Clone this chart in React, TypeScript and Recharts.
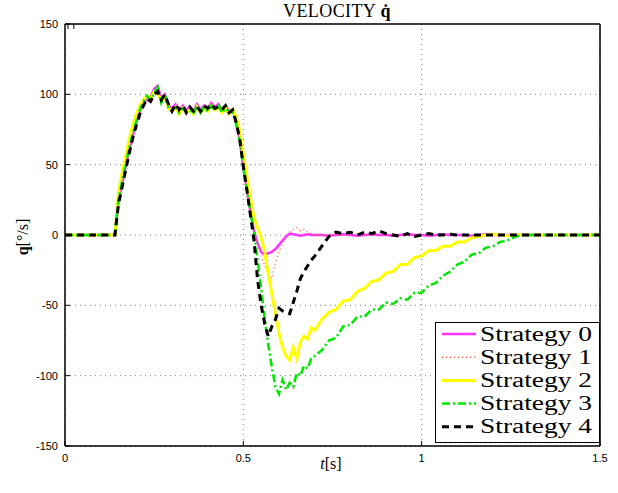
import React from 'react';
import {
  LineChart,
  Line,
  XAxis,
  YAxis,
  CartesianGrid,
  Legend,
  ReferenceArea
} from 'recharts';

// time samples [s]
const time = [
  0,
  0.14, 0.15, 0.16, 0.17, 0.18, 0.19, 0.2, 0.21, 0.22, 0.23,
  0.24, 0.25, 0.26, 0.27, 0.28, 0.29, 0.3, 0.31, 0.32, 0.33,
  0.34, 0.35, 0.36, 0.37, 0.38, 0.39, 0.4, 0.41, 0.42, 0.43,
  0.44, 0.45, 0.46, 0.47,
  0.48, 0.49, 0.5, 0.51, 0.52, 0.53, 0.54, 0.55, 0.56, 0.57,
  0.58, 0.59, 0.6, 0.61, 0.62, 0.63, 0.64, 0.65, 0.66, 0.67,
  0.68, 0.69, 0.7,
  0.72, 0.74, 0.76, 0.78, 0.8, 0.82, 0.84, 0.86, 0.88, 0.9,
  0.92, 0.94, 0.96, 0.98, 1.0, 1.02, 1.04, 1.06, 1.08, 1.1,
  1.12, 1.14, 1.16, 1.18, 1.2, 1.22, 1.24, 1.26, 1.28, 1.3,
  1.35, 1.4, 1.45, 1.5
];

// velocity [deg/s] per strategy
const strategy0 = [
  0,
  0, 24, 36, 48, 60, 70, 80, 88, 93, 97,
  98, 104, 106, 97, 100, 92, 90, 93, 88, 92,
  89, 91, 88, 93, 89, 92, 90, 94, 91, 93,
  89, 92, 88, 89,
  80, 68, 48, 32, 16, 3, -6, -12, -14, -13,
  -12, -10, -7, -4, -1, 1, 0.5, 0, -0.5, 0,
  0.5, 0, 0,
  0, -0.5, 0, 0.5, 0, -0.5, 0, 0.5, 0, 0,
  -0.5, 0, 0.5, 0, 0, -0.5, 0, 0.5, 0, 0,
  0, -0.5, 0, 0.5, 0, 0, 0, 0, 0, 0,
  0, 0, 0, 0
];

const strategy1 = [
  0,
  0, 25, 37, 49, 61, 71, 80, 88, 94, 98,
  97, 102, 104, 96, 99, 91, 88, 92, 86, 91,
  87, 90, 87, 92, 88, 91, 89, 93, 90, 92,
  88, 91, 87, 88,
  79, 67, 47, 31, 15, 3, -6, -14, -22, -28,
  -31, -20, -12, -6, -1, 2, 4, 5, 3, 4,
  2, 1, 0,
  0, 0.5, 0, -0.5, 0, 0.5, 0, 0, -0.5, 0,
  0.5, 0, 0, 0, -0.5, 0, 0.5, 0, 0, 0,
  0, 0, 0, 0, 0, 0, 0, 0, 0, 0,
  0, 0, 0, 0
];

const strategy2 = [
  0,
  0, 30, 44, 56, 68, 78, 86, 92, 96, 99,
  97, 102, 100, 96, 98, 90, 88, 91, 86, 90,
  87, 89, 86, 91, 87, 90, 88, 92, 89, 91,
  87, 90, 86, 89,
  84, 74, 58, 42, 26, 12, 5, -2, -12, -28,
  -42, -56, -70, -80, -86, -89, -80, -88, -76, -72,
  -74, -66, -68,
  -60, -55, -53, -47, -46, -40, -38, -33, -32, -27,
  -26, -21, -21, -16, -15, -11, -11, -8, -8, -5,
  -5, -2, -1, 0, 0.5, 0, -0.5, 0, 0, 0,
  0, 0, 0, 0
];

const strategy3 = [
  0,
  0, 25, 38, 50, 62, 72, 81, 89, 95, 99,
  96, 101, 105, 94, 100, 90, 89, 91, 87, 90,
  88, 89, 86, 92, 87, 91, 88, 92, 89, 93,
  87, 90, 88, 87,
  79, 67, 48, 32, 16, 2, -18, -38, -60, -78,
  -94, -108, -113, -103, -110, -105, -108, -98, -100, -93,
  -95, -88, -86,
  -82, -75, -73, -65, -64, -58, -58, -53, -53, -48,
  -49, -45, -46, -41, -41, -36, -34, -29, -26, -21,
  -19, -14, -13, -9, -8, -5, -4, -1.5, 0, 0,
  0, 0, 0, 0
];

const strategy4 = [
  0,
  0, 22, 34, 46, 58, 69, 78, 86, 92, 97,
  95, 100, 102, 96, 100, 93, 88, 93, 89, 92,
  87, 91, 88, 91, 88, 92, 90, 93, 90, 91,
  89, 92, 87, 89,
  80, 68, 49, 32, 14, -4, -32, -50, -63, -72,
  -65, -60, -52, -54, -55, -56, -48, -40, -31, -26,
  -22, -18, -15,
  -8, -1, 2, 1, 2, 0, 2, 1, 3, 1,
  0, -1, 1, -1, 0, 1, 0, 0, 0.5, 0,
  0, 0, 0, 0, 0, 0, 0, 0, 0, 0,
  0, 0, 0, 0
];

const xTicks = [0, 0.5, 1, 1.5];
const yTicks = [-150, -100, -50, 0, 50, 100, 150];

const seriesStyle = [
  { key: 's0', name: 'Strategy 0', color: '#ff33ff', width: 2.5, dash: undefined },
  { key: 's1', name: 'Strategy 1', color: '#ff6a4a', width: 1.5, dash: '1 3' },
  { key: 's2', name: 'Strategy 2', color: '#ffff00', width: 3, dash: undefined },
  { key: 's3', name: 'Strategy 3', color: '#00e600', width: 2.5, dash: '8 3 2 3' },
  { key: 's4', name: 'Strategy 4', color: '#000000', width: 3, dash: '7 5' }
];

const data = time.map((t, i) => ({
  t,
  s0: strategy0[i],
  s1: strategy1[i],
  s2: strategy2[i],
  s3: strategy3[i],
  s4: strategy4[i]
}));

const serif = "'Liberation Serif', 'Times New Roman', serif";
const tickFont = { fontSize: 11, fontFamily: "'Liberation Sans', Arial, sans-serif", fill: '#000' };

function LegendBox() {
  return (
    <svg width={165} height={121} style={{ display: 'block' }}>
      <rect x={0.5} y={0.5} width={164} height={120} fill="#fff" stroke="#000" strokeWidth={1} />
      {seriesStyle.map((s, i) => {
        const y = 12 + i * 23.2;
        return (
          <g key={s.key}>
            <line
              x1={7}
              x2={41}
              y1={y}
              y2={y}
              stroke={s.color}
              strokeWidth={s.width}
              strokeDasharray={s.dash}
            />
            <text
              x={45}
              y={y + 6.5}
              style={{ fontFamily: serif, fontSize: 20 }}
              textLength={112}
              lengthAdjust="spacingAndGlyphs"
              fill="#000"
            >
              {s.name}
            </text>
          </g>
        );
      })}
    </svg>
  );
}

export default function App() {
  return (
    <div style={{ position: 'absolute', left: 0, top: 0, width: 618, height: 493, background: '#fff' }}>
      <LineChart
        width={618}
        height={493}
        data={data}
        margin={{ top: 23, right: 17, bottom: 22, left: 25 }}
      >
        <CartesianGrid stroke="#777" strokeDasharray="1 4" />
        <XAxis
          dataKey="t"
          type="number"
          domain={[0, 1.5]}
          ticks={xTicks}
          height={25}
          tickSize={-5}
          tickMargin={13}
          tick={tickFont}
          axisLine={{ stroke: '#000' }}
          tickLine={{ stroke: '#000' }}
          allowDataOverflow
        />
        <XAxis
          xAxisId="top"
          orientation="top"
          type="number"
          domain={[0, 1.5]}
          ticks={xTicks}
          height={1}
          tickSize={-5}
          tickFormatter={() => ''}
          axisLine={{ stroke: '#000' }}
          tickLine={{ stroke: '#000' }}
        />
        <YAxis
          type="number"
          domain={[-150, 150]}
          ticks={yTicks}
          width={40}
          tickSize={-5}
          tickMargin={12}
          tick={tickFont}
          axisLine={{ stroke: '#000' }}
          tickLine={{ stroke: '#000' }}
          allowDataOverflow
        />
        <YAxis
          yAxisId="right"
          orientation="right"
          type="number"
          domain={[-150, 150]}
          ticks={yTicks}
          width={1}
          tickSize={-5}
          tickFormatter={() => ''}
          axisLine={{ stroke: '#000' }}
          tickLine={{ stroke: '#000' }}
        />
        <ReferenceArea
          x1={0}
          x2={1.5}
          y1={-150}
          y2={150}
          fill="none"
          stroke="#000"
          strokeWidth={1}
          ifOverflow="visible"
        />
        {seriesStyle.map(s => (
          <Line
            key={s.key}
            dataKey={s.key}
            name={s.name}
            type="linear"
            stroke={s.color}
            strokeWidth={s.width}
            strokeDasharray={s.dash}
            dot={false}
            isAnimationActive={false}
          />
        ))}
        <Legend
          layout="vertical"
          align="center"
          verticalAlign="middle"
          wrapperStyle={{ left: 435, top: 322, width: 165, height: 121 }}
          content={() => <LegendBox />}
        />
      </LineChart>
      <div
        style={{
          position: 'absolute',
          left: 237,
          top: 1,
          width: 200,
          textAlign: 'center',
          fontFamily: serif,
          fontSize: 18,
          lineHeight: '20px',
          letterSpacing: 0.4,
          whiteSpace: 'nowrap'
        }}
      >
        VELOCITY <b>q&#775;</b>
      </div>
      <div
        style={{
          position: 'absolute',
          left: 23,
          top: 237,
          transform: 'translate(-50%, -50%) rotate(-90deg)',
          fontFamily: serif,
          fontSize: 16,
          lineHeight: '18px',
          whiteSpace: 'nowrap'
        }}
      >
        <b>q</b>[°/s]
      </div>
      <div
        style={{
          position: 'absolute',
          left: 281,
          top: 455,
          width: 100,
          textAlign: 'center',
          fontFamily: serif,
          fontSize: 16,
          lineHeight: '18px'
        }}
      >
        <i>t</i>[s]
      </div>
    </div>
  );
}
